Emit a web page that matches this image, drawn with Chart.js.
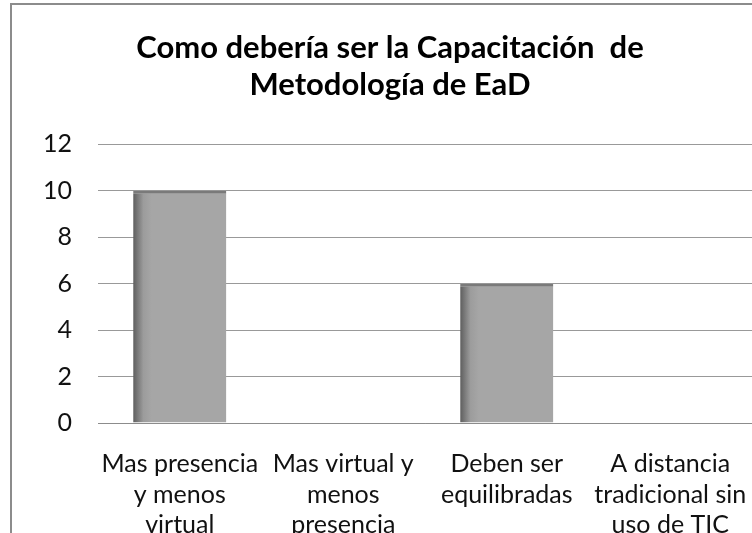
<!DOCTYPE html>
<html lang="es">
  <head>
    <meta charset="UTF-8" />
    <title>Capacitación EaD</title>
    <style>
      * { margin: 0; padding: 0; box-sizing: border-box; }
      body { width: 752px; height: 533px; overflow: hidden; background: #fff; position: relative; }
      #marco { position: absolute; left: 10px; top: 3px; width: 800px; height: 600px;
               border-left: 2px solid #8c8c8c; border-top: 2px solid #8c8c8c; }
      #grafico { position: absolute; left: 0; top: 0; width: 752px; height: 533px; }
    </style>
  </head>
  <body>
    <div id="marco"></div>
    <div id="grafico">
      <canvas id="grafico1"></canvas>
    </div>

    <script src="https://cdn.jsdelivr.net/npm/chart.js"></script>
    <script>
      const categorias = [
        ['Mas presencia', 'y menos', 'virtual'],
        ['Mas virtual y', 'menos', 'presencia'],
        ['Deben ser', 'equilibradas'],
        ['A distancia', 'tradicional sin', 'uso de TIC']
      ]
      const valores = [10, 0, 6, 0]
      const ticksY = [0, 2, 4, 6, 8, 10, 12]

      const fuente = 'Lato, "Open Sans", sans-serif'

      // degradado gris como en Excel
      const colorBarra = (c) => {
        const chart = c.chart
        const area = chart.chartArea
        if (!area) return '#a6a6a6'
        const x = chart.scales.x.getPixelForValue(c.dataIndex)
        const ancho = (area.right - area.left) / categorias.length * 0.57
        const g = chart.ctx.createLinearGradient(x - ancho / 2, 0, x + ancho / 2, 0)
        g.addColorStop(0, '#5e5e5e')
        g.addColorStop(0.11, '#9c9c9c')
        g.addColorStop(0.2, '#a6a6a6')
        g.addColorStop(1, '#a6a6a6')
        return g
      }

      const ctx = document.getElementById('grafico1')

      new Chart(ctx, {
        type: 'bar',
        data: {
          labels: categorias,
          datasets: [{
            data: valores,
            backgroundColor: colorBarra,
            borderColor: '#7a7a7a',
            borderWidth: { top: 3, left: 0, right: 0, bottom: 0 },
            borderSkipped: false,
            categoryPercentage: 1,
            barPercentage: 0.57
          }]
        },
        options: {
          responsive: true,
          maintainAspectRatio: false,
          animation: false,
          layout: { padding: { left: 28, right: 0, top: 4, bottom: 0 } },
          plugins: {
            legend: { display: false },
            tooltip: { enabled: false },
            title: {
              display: true,
              text: ['Como debería ser la Capacitación  de', 'Metodología de EaD'],
              color: '#000',
              font: { family: fuente, size: 31, weight: 'bold', lineHeight: 1.2 },
              padding: { top: 25, bottom: 41 }
            }
          },
          scales: {
            x: {
              grid: { display: false },
              border: { display: true, color: '#8c8c8c', width: 1 },
              ticks: {
                color: '#111',
                font: { family: fuente, size: 25, lineHeight: 1.22 },
                padding: 18,
                maxRotation: 0,
                autoSkip: false
              },
              afterFit: (s) => {
                s.height = 110
                s.paddingLeft = 0
                s.paddingRight = 0
              }
            },
            y: {
              min: 0,
              max: 12,
              afterBuildTicks: (s) => { s.ticks = ticksY.map(v => ({ value: v })) },
              grid: { color: '#999', lineWidth: 1, drawTicks: false },
              border: { display: false },
              ticks: {
                color: '#111',
                font: { family: fuente, size: 25 },
                padding: 26
              },
              afterFit: (s) => { s.width = 70 }
            }
          }
        }
      })
    </script>
  </body>
</html>
